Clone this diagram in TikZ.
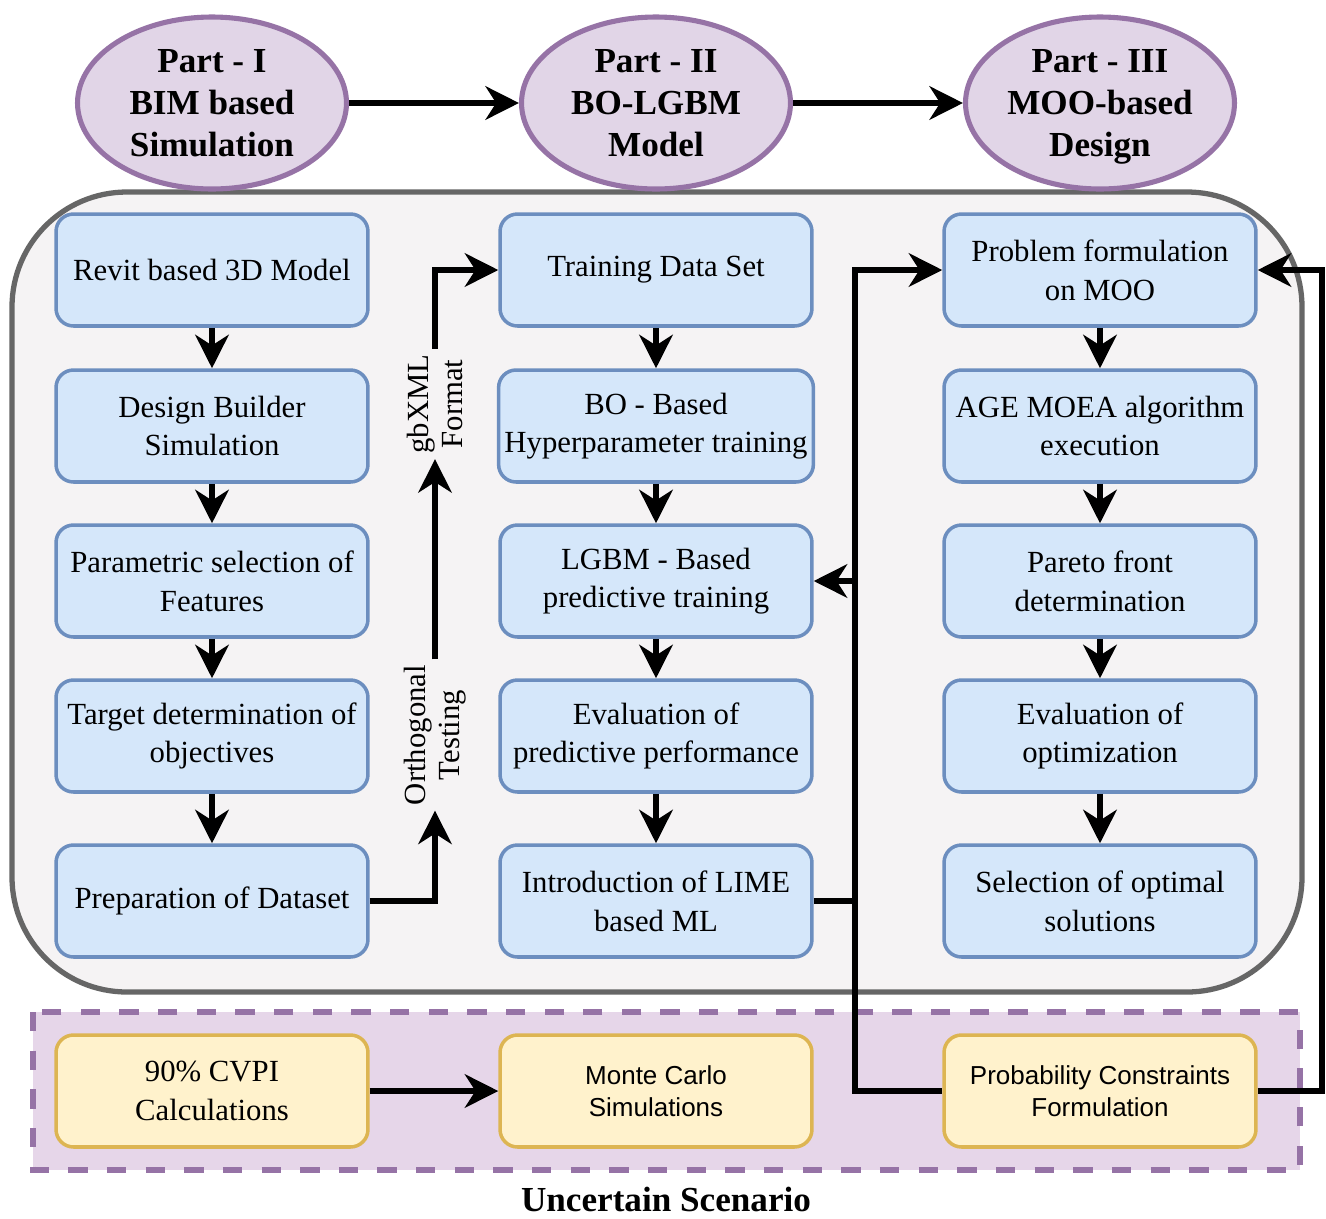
\documentclass[tikz,border=0pt]{standalone}
\usepackage{fontspec}
\setmainfont{Liberation Serif}
\setsansfont{Liberation Sans}
\usetikzlibrary{arrows.meta,shapes.geometric}
\definecolor{partfill}{HTML}{E1D5E7}
\definecolor{partline}{HTML}{9673A6}
\definecolor{boxfill}{HTML}{D5E7FA}
\definecolor{boxline}{HTML}{6C8EBF}
\definecolor{incfill}{HTML}{FFF2CC}
\definecolor{incline}{HTML}{DDB552}
\definecolor{cadrefill}{HTML}{F5F3F4}
\definecolor{cadreline}{HTML}{666666}
\definecolor{zonefill}{HTML}{E6D6E9}

\begin{document}
\begin{tikzpicture}[x=0.02cm,y=-0.02cm]
        \useasboundingbox (0,0) rectangle (1326,1218);
        \tikzset{part/.style={ellipse,draw=partline,fill=partfill,line width=2.9pt,minimum width=5.38cm,minimum height=3.44cm,inner sep=0pt,align=center,font=\fontsize{20}{24}\selectfont\bfseries}}
        \tikzset{etape/.style={draw=boxline,fill=boxfill,rounded corners=0.35cm,line width=2pt,minimum width=6.24cm,minimum height=2.24cm,align=center,font=\fontsize{17.5}{22}\selectfont}}
        \tikzset{incert/.style={etape,draw=incline,fill=incfill}}
        \tikzset{legende/.style={rotate=90,align=center,inner sep=3pt,font=\fontsize{17.5}{19}\selectfont}}
        \tikzset{fleche/.style={-{Stealth[length=19pt,width=19pt,inset=6pt]},line width=3.4pt}}
        \tikzset{trait/.style={line width=3.4pt}}
        \draw[line width=3pt,draw=cadreline,fill=cadrefill,rounded corners=2.3cm] (12,192) rectangle (1302,992);
        \draw[line width=3.4pt,draw=partline,fill=zonefill,dash pattern=on 11pt off 11pt] (33,1012) rectangle (1300,1170);
        \node[part] (P1) at (212,103) {Part - I\\BIM based\\Simulation};
        \node[part] (P2) at (656,103) {Part - II\\BO-LGBM\\Model};
        \node[part] (P3) at (1100,103) {Part - III\\MOO-based\\\smash{Design}};
        \node[etape] (RM) at (212,270) {Revit based 3D Model};
        \node[etape] (DB) at (212,426) {Design Builder\\Simulation};
        \node[etape] (PS) at (212,581) {Parametric selection of\\Features};
        \node[etape] (TD) at (212,736) {Target determination of\\objectives};
        \node[etape] (PD) at (212,901) {Preparation of Dataset};
        \node[etape] (TS) at (656,270) {Training Data Set};
        \node[etape] (BO) at (656,426) {BO - Based\\Hyperparameter training};
        \node[etape] (LG) at (656,581) {LGBM - Based\\predictive training};
        \node[etape] (EP) at (656,736) {Evaluation of\\predictive performance};
        \node[etape] (IL) at (656,901) {Introduction of LIME\\based ML};
        \node[etape] (PF) at (1100,270) {Problem formulation\\on MOO};
        \node[etape] (AG) at (1100,426) {AGE MOEA algorithm\\execution};
        \node[etape] (PA) at (1100,581) {Pareto front\\determination};
        \node[etape] (EO) at (1100,736) {Evaluation of\\optimization};
        \node[etape] (SO) at (1100,901) {Selection of optimal\\solutions};
        \node[incert] (CV) at (212,1091) {90\% CVPI\\Calculations};
        \node[incert,font=\sffamily\fontsize{14.8}{18.5}\selectfont] (MC) at (656,1091) {Monte Carlo\\Simulations};
        \node[incert,font=\sffamily\fontsize{14.8}{18.5}\selectfont] (PC) at (1100,1091) {Probability Constraints\\Formulation};
        \node[legende] (OT) at (435,735) {Orthogonal\\Testing};
        \node[legende] (GX) at (435,404) {gbXML\\Format};
        \node[font=\fontsize{20}{24}\selectfont\bfseries] (US) at (666,1199) {Uncertain Scenario};
        \coordinate (J) at (855,901);
        \coordinate (R) at (1322,1091);
        \draw[fleche] (P1) -- (P2);
        \draw[fleche] (P2) -- (P3);
        \draw[fleche] (RM) -- (DB);
        \draw[fleche] (DB) -- (PS);
        \draw[fleche] (PS) -- (TD);
        \draw[fleche] (TD) -- (PD);
        \draw[fleche] (TS) -- (BO);
        \draw[fleche] (BO) -- (LG);
        \draw[fleche] (LG) -- (EP);
        \draw[fleche] (EP) -- (IL);
        \draw[fleche] (PF) -- (AG);
        \draw[fleche] (AG) -- (PA);
        \draw[fleche] (PA) -- (EO);
        \draw[fleche] (EO) -- (SO);
        \draw[fleche] (PD) -| (OT.west);
        \draw[fleche] (OT.east) -- (GX.west);
        \draw[fleche] (GX.east) |- (TS.west);
        \draw[trait] (IL) -- (J);
        \draw[fleche] (J) |- (PF.west);
        \draw[fleche] (J) |- (LG.east);
        \draw[trait] (J) |- (PC.west);
        \draw[fleche] (PC.east) -- (R) |- (PF.east);
        \draw[fleche] (CV) -- (MC);
\end{tikzpicture}
\end{document}
